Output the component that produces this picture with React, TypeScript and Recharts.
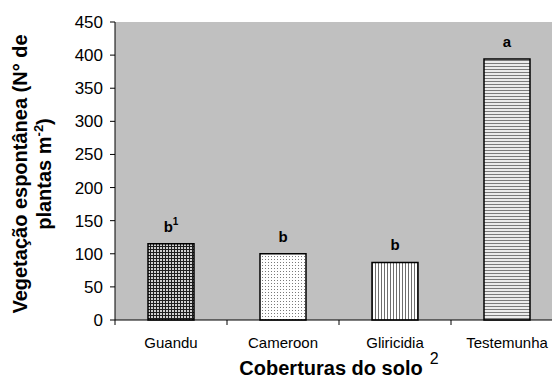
import React from 'react';
import { BarChart, Bar, XAxis, YAxis, CartesianGrid, LabelList, Cell, Label } from 'recharts';

const coberturas = ['Guandu', 'Cameroon', 'Gliricidia', 'Testemunha'];
const plantas = [115, 100, 87, 394];
const letras = ['b', 'b', 'b', 'a'];
const notas = ['1', '', '', ''];
const yTicks = [0, 50, 100, 150, 200, 250, 300, 350, 400, 450];
const padroes = ['pGuandu', 'pCameroon', 'pGliricidia', 'pTestemunha'];

const data = coberturas.map((c, i) => ({ cobertura: c, plantas: plantas[i], letra: letras[i] }));

const FONT = "'Liberation Sans', Arial, sans-serif";
const BAND = 112; // largura de cada categoria (448 / 4)

function XTick(props: any) {
  const { x, y, payload, index } = props;
  const last = index === coberturas.length - 1;
  return (
    <g>
      <line x1={x - BAND / 2} x2={x - BAND / 2} y1={y} y2={y + 5} stroke="#000" />
      {last && <line x1={x + BAND / 2} x2={x + BAND / 2} y1={y} y2={y + 5} stroke="#000" />}
      <text x={x} y={y + 28} textAnchor="middle" fontSize={15} fill="#000" fontFamily={FONT}>
        {payload.value}
      </text>
    </g>
  );
}

function LetraLabel(props: any) {
  const { x, y, width, value, index } = props;
  const nota = notas[index] || '';
  return (
    <text x={x + width / 2} y={y - 12} textAnchor="middle" fontSize={15} fontWeight="bold" fill="#000" fontFamily={FONT}>
      {value}
      {nota && <tspan dy={-7} fontSize={10} fontWeight="bold">{nota}</tspan>}
    </text>
  );
}

function YTitle() {
  const cy = 174;
  return (
    <g fontFamily={FONT} fontWeight="bold" fontSize={20} fill="#000">
      <text x={27} y={cy} transform={`rotate(-90 27 ${cy})`} textAnchor="middle">
        Vegetação espontânea (N° de
      </text>
      <text x={51} y={cy} transform={`rotate(-90 51 ${cy})`} textAnchor="middle">
        plantas m<tspan dy={-8} fontSize={13}>-2</tspan><tspan dy={8}>)</tspan>
      </text>
    </g>
  );
}

function XTitle(props: any) {
  const { viewBox } = props;
  const cx = viewBox.x + viewBox.width / 2;
  const y = 375;
  return (
    <text x={cx} y={y} textAnchor="middle" fontFamily={FONT} fill="#000">
      <tspan fontSize={20} fontWeight="bold">Coberturas do solo</tspan>
      <tspan fontSize={16} dx={7} dy={-11}>2</tspan>
    </text>
  );
}

export default function App() {
  return (
    <div style={{ position: 'fixed', left: 0, top: 0, width: 552, height: 383, overflow: 'hidden', background: '#fff' }}>
      <BarChart
        width={570}
        height={383}
        data={data}
        margin={{ top: 22, right: 7, left: 0, bottom: 33 }}
        style={{ fontFamily: FONT }}
      >
        <defs>
          <pattern id="pGuandu" width={3} height={3} patternUnits="userSpaceOnUse">
            <rect width={3} height={3} fill="#1e1e1e" />
            <rect x={1} y={1} width={2} height={2} fill="#d0d0d0" />
          </pattern>
          <pattern id="pCameroon" width={3} height={3} patternUnits="userSpaceOnUse">
            <rect width={3} height={3} fill="#ffffff" />
            <rect x={1} y={1} width={1} height={1} fill="#7a7a7a" />
          </pattern>
          <pattern id="pGliricidia" width={3} height={3} patternUnits="userSpaceOnUse">
            <rect width={3} height={3} fill="#ffffff" />
            <rect x={0} y={0} width={1} height={3} fill="#6e6e6e" />
          </pattern>
          <pattern id="pTestemunha" width={3} height={3} patternUnits="userSpaceOnUse">
            <rect width={3} height={3} fill="#ececec" />
            <rect x={0} y={0} width={3} height={1} fill="#7c7c7c" />
          </pattern>
        </defs>
        <CartesianGrid horizontal={false} vertical={false} fill="#c0c0c0" />
        <XAxis
          dataKey="cobertura"
          height={30}
          axisLine={{ stroke: '#000' }}
          tickLine={false}
          tickSize={0}
          tickMargin={0}
          tick={<XTick />}
          interval={0}
        >
          <Label content={XTitle} />
        </XAxis>
        <YAxis
          width={115}
          domain={[0, 450]}
          ticks={yTicks}
          interval={0}
          axisLine={{ stroke: '#000' }}
          tickLine={{ stroke: '#000' }}
          tickSize={5}
          tickMargin={7}
          tick={{ fontSize: 17, fill: '#000', fontFamily: FONT }}
        >
          <Label content={YTitle} />
        </YAxis>
        <Bar dataKey="plantas" barSize={46} stroke="#000" strokeWidth={1.5} isAnimationActive={false}>
          {data.map((d, i) => (
            <Cell key={d.cobertura} fill={`url(#${padroes[i]})`} />
          ))}
          <LabelList dataKey="letra" content={LetraLabel} />
        </Bar>
      </BarChart>
    </div>
  );
}
